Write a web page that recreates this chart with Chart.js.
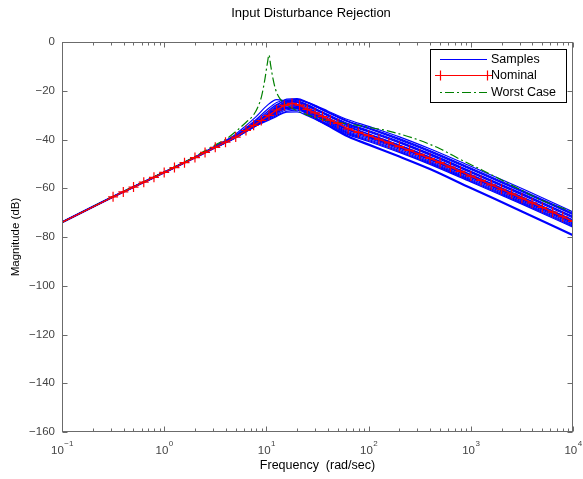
<!DOCTYPE html>
<html><head><meta charset="utf-8">
<script src="https://cdn.jsdelivr.net/npm/chart.js@4.4.0/dist/chart.umd.min.js"></script>
<style>html,body{margin:0;padding:0;background:#fff;}canvas{display:block;}</style>
</head><body>
<canvas id="c" width="583" height="479"></canvas>
<script>
// ---------- data ----------
const chartTitle = 'Input Disturbance Rejection';
const xTitle = 'Frequency  (rad/sec)';
const yTitle = 'Magnitude (dB)';
const yTicks = [-160, -140, -120, -100, -80, -60, -40, -20, 0];
const xTickExps = [-1, 0, 1, 2, 3, 4];
const legendLabels = ['Samples', 'Nominal', 'Worst Case'];

const freqNominal = [0.1, 0.316, 0.398, 0.501, 0.631, 0.794, 1, 1.26, 1.58, 2, 2.51, 3.16, 3.98, 5.01, 6.31, 7.5, 8.91, 10.6, 12.6, 15.0, 17.8, 21.1, 25.1, 29.9, 35.5, 42.2, 50.1, 63.1, 79.4, 100, 126, 158, 200, 251, 316, 398, 501, 631, 794, 1000, 1259, 1585, 1995, 2512, 3162, 3981, 5012, 6310, 7943, 10000];
const magNominal = [-74, -63.5, -61.5, -59.5, -57.5, -55.5, -53.5, -51.5, -49.5, -47.4, -45.3, -43.2, -41.1, -39.0, -36.3, -34.2, -32.2, -30.1, -27.9, -26.0, -25.2, -25.9, -27.6, -29.1, -30.6, -32.1, -33.4, -35.6, -37.1, -38.4, -39.9, -41.4, -42.9, -44.5, -46.1, -47.8, -49.5, -51.3, -53.1, -55.0, -56.8, -58.6, -60.4, -62.3, -64.1, -66.0, -67.9, -69.8, -71.7, -73.6];

const freqWorst = [0.1, 0.316, 1, 2, 3.16, 4, 5, 6.3, 7.4, 8.3, 9.0, 9.6, 10.2, 10.6, 11.0, 11.6, 12.3, 13.5, 15.8, 20, 26.6, 35, 50, 70, 100, 150, 200, 300, 500, 800, 1300, 2000, 3000, 5000, 10000];
const magWorst = [-74, -63.4, -53.3, -47.0, -42.2, -39.9, -36.8, -33.0, -30.2, -26.5, -22.0, -16.0, -9.0, -5.3, -9.5, -15.0, -19.5, -23.1, -25.8, -28.2, -30.3, -31.8, -33.0, -33.9, -35.0, -36.3, -37.7, -40.0, -43.8, -48.3, -52.6, -56.6, -60.4, -65.0, -69.7];

const freqSamples = [0.1, 0.316, 1, 2, 3.16, 5.01, 6.31, 7.94, 10, 12.6, 15.8, 20, 25.1, 31.6, 39.8, 63.1, 100, 200, 398, 1000, 3162, 10000];
const sample01 = [-74, -63.5, -53.4, -47.2, -42.7, -37.8, -34.3, -30.6, -26.3, -23.6, -24.3, -26.2, -28.4, -30.4, -32.3, -36.0, -38.9, -43.3, -48.2, -55.4, -64.5, -74.0];
const sample02 = [-74, -63.5, -53.4, -47.3, -42.9, -38.3, -35.2, -31.8, -28.0, -24.8, -23.8, -24.8, -26.9, -29.0, -31.0, -34.9, -37.9, -42.4, -47.3, -54.5, -63.6, -73.1];
const sample03 = [-74, -63.5, -53.5, -47.4, -43.1, -38.8, -35.9, -32.8, -29.6, -26.1, -23.4, -23.2, -24.6, -26.4, -28.3, -31.9, -34.6, -38.9, -43.8, -51.0, -60.1, -69.7];
const sample04 = [-74, -63.5, -53.5, -47.4, -43.1, -38.9, -36.1, -33.1, -30.1, -26.8, -24.1, -23.5, -24.9, -26.9, -28.9, -32.5, -35.2, -39.6, -44.5, -51.7, -60.8, -70.3];
const sample05 = [-74, -63.5, -53.5, -47.4, -43.2, -39.0, -36.3, -33.4, -30.6, -27.6, -25.0, -23.9, -24.7, -26.6, -28.7, -32.7, -35.6, -40.2, -45.1, -52.3, -61.4, -70.9];
const sample06 = [-74, -63.5, -53.5, -47.4, -43.1, -38.8, -36.0, -32.9, -29.9, -26.8, -24.4, -24.2, -25.7, -27.7, -29.7, -33.5, -36.3, -40.8, -45.8, -53.0, -62.1, -71.6];
const sample07 = [-74, -63.5, -53.5, -47.4, -43.2, -38.9, -36.2, -33.2, -30.3, -27.3, -25.0, -24.6, -26.1, -28.2, -30.2, -34.1, -36.9, -41.4, -46.4, -53.6, -62.7, -72.2];
const sample08 = [-74, -63.5, -53.5, -47.4, -43.2, -39.0, -36.3, -33.5, -30.9, -28.2, -25.9, -24.8, -25.8, -27.9, -30.1, -34.5, -37.7, -42.3, -47.2, -54.4, -63.5, -73.0];
const sample09 = [-74, -63.5, -53.5, -47.4, -43.2, -39.0, -36.3, -33.5, -30.9, -28.2, -26.2, -26.1, -27.8, -29.8, -31.8, -35.6, -38.4, -42.9, -47.8, -55.0, -64.1, -73.6];
const sample10 = [-74, -63.5, -53.5, -47.4, -43.2, -39.1, -36.4, -33.7, -31.2, -28.6, -26.7, -26.5, -28.2, -30.3, -32.3, -36.2, -39.0, -43.5, -48.4, -55.6, -64.7, -74.2];
const sample11 = [-74, -63.5, -53.5, -47.4, -43.2, -39.1, -36.5, -33.9, -31.5, -29.0, -27.2, -26.9, -28.5, -30.6, -32.7, -36.7, -39.5, -44.0, -48.9, -56.1, -65.2, -74.7];
const sample12 = [-74, -63.5, -53.5, -47.4, -43.3, -39.2, -36.6, -34.1, -31.9, -29.6, -27.8, -27.4, -28.8, -30.9, -33.1, -37.2, -40.0, -44.5, -49.4, -56.6, -65.7, -75.2];
const sample13 = [-74, -63.5, -53.5, -47.4, -43.3, -39.2, -36.7, -34.3, -32.2, -30.1, -28.4, -28.0, -29.4, -31.5, -33.6, -37.6, -40.4, -44.9, -49.8, -57.0, -66.1, -75.6];
const sample14 = [-74, -63.5, -53.5, -47.4, -43.3, -39.3, -36.8, -34.4, -32.5, -30.5, -28.8, -28.7, -30.2, -32.2, -34.2, -38.0, -40.8, -45.3, -50.2, -57.4, -66.5, -76.0];
const sample15 = [-74, -63.5, -53.5, -47.3, -43.0, -38.5, -35.6, -32.3, -28.9, -25.7, -24.2, -24.6, -26.3, -28.2, -30.1, -33.8, -36.6, -41.1, -46.0, -53.2, -62.3, -71.8];
const sample16 = [-74, -63.5, -53.5, -47.4, -43.2, -39.1, -36.5, -33.7, -31.3, -28.8, -27.0, -27.1, -29.3, -31.8, -34.2, -38.8, -42.1, -47.0, -52.1, -59.9, -69.5, -79.3];
const sample17 = [-74, -63.5, -53.5, -47.4, -43.2, -39.0, -36.2, -33.3, -30.4, -27.3, -24.6, -23.7, -24.8, -26.8, -28.8, -32.6, -35.4, -39.9, -44.8, -52.0, -61.1, -70.6];
const sample18 = [-74, -63.5, -53.5, -47.4, -43.1, -38.9, -36.1, -33.1, -30.3, -27.4, -25.4, -25.6, -27.4, -29.5, -31.6, -35.7, -38.7, -43.2, -48.1, -55.3, -64.4, -73.9];
const samples = [sample01, sample02, sample03, sample04, sample05, sample06, sample07, sample08, sample09, sample10, sample11, sample12, sample13, sample14, sample15, sample16, sample17, sample18];

// ---------- styles ----------
const FONT = '"Liberation Sans", Arial, Helvetica, sans-serif';
const BLUE = '#0000ff', RED = '#ff0000', GREEN = '#008000';
const DASHDOT = [9, 3, 2, 3];

const pts = (xs, ys) => xs.map((x, i) => ({x: x, y: ys[i]}));

const datasets = [];
datasets.push({
  label: 'Nominal', data: pts(freqNominal, magNominal),
  borderColor: RED, backgroundColor: RED, borderWidth: 1.4, tension: 0,
  pointStyle: 'cross', pointRadius: freqNominal.map((f, i) => i === 0 ? 0 : 5),
  pointBorderColor: RED, pointBorderWidth: 1.2
});
datasets.push({
  label: 'Worst Case', data: pts(freqWorst, magWorst),
  borderColor: GREEN, borderWidth: 1.2, borderDash: DASHDOT, pointRadius: 0,
  cubicInterpolationMode: 'monotone'
});
samples.forEach((s, i) => datasets.push({
  label: 'Samples', data: pts(freqSamples, s),
  borderColor: BLUE, borderWidth: s === sample16 ? 2.2 : 1.2, pointRadius: 0,
  cubicInterpolationMode: 'monotone'
}));

const decor = {
  id: 'decor',
  afterDraw(chart) {
    const ctx = chart.ctx, a = chart.chartArea;
    const xs = chart.scales.x, ys = chart.scales.y;
    const L = Math.round(a.left) + 0.5, R = Math.round(a.right) - 0.5;
    const T = Math.round(a.top) + 0.5, B = Math.round(a.bottom) - 0.5;
    ctx.save();
    ctx.strokeStyle = '#6b6b6b'; ctx.lineWidth = 1;
    ctx.strokeRect(L, T, R - L, B - T);
    ctx.beginPath();
    yTicks.forEach(v => {
      const y = Math.round(ys.getPixelForValue(v)) + 0.5;
      ctx.moveTo(L, y); ctx.lineTo(L + 5, y);
      ctx.moveTo(R, y); ctx.lineTo(R - 5, y);
    });
    xTickExps.forEach(e => {
      const x = Math.round(xs.getPixelForValue(Math.pow(10, e))) + 0.5;
      ctx.moveTo(x, B); ctx.lineTo(x, B - 5);
      ctx.moveTo(x, T); ctx.lineTo(x, T + 5);
      if (e < 4) {
        for (let k = 2; k <= 9; k++) {
          const xm = Math.round(xs.getPixelForValue(k * Math.pow(10, e))) + 0.5;
          ctx.moveTo(xm, B); ctx.lineTo(xm, B - 3);
          ctx.moveTo(xm, T); ctx.lineTo(xm, T + 3);
        }
      }
    });
    ctx.stroke();

    // x tick labels 10^e
    ctx.fillStyle = '#444'; ctx.textBaseline = 'alphabetic'; ctx.textAlign = 'left';
    xTickExps.forEach(e => {
      const x = xs.getPixelForValue(Math.pow(10, e));
      const expTxt = e < 0 ? '\u2212' + (-e) : String(e);
      ctx.font = '11.5px ' + FONT; const w1 = ctx.measureText('10').width;
      ctx.font = '8px ' + FONT; const w2 = ctx.measureText(expTxt).width;
      const x0 = x - (w1 + w2) / 2;
      ctx.font = '11.5px ' + FONT; ctx.fillText('10', x0, 454);
      ctx.font = '8px ' + FONT; ctx.fillText(expTxt, x0 + w1 + 0.5, 446);
    });

    // title
    ctx.fillStyle = '#000'; ctx.textAlign = 'center'; ctx.textBaseline = 'middle';
    ctx.font = '13px ' + FONT;
    ctx.fillText(chartTitle, 311, 13.5);

    // legend
    const lx = 430, ly = 49, lw = 136, lh = 53;
    ctx.fillStyle = '#fff'; ctx.fillRect(lx, ly, lw, lh);
    ctx.strokeStyle = '#000'; ctx.lineWidth = 1;
    ctx.strokeRect(lx + 0.5, ly + 0.5, lw, lh);
    const rows = [59.5, 75.5, 92.5];
    const x1 = 440, x2 = 487;
    ctx.lineWidth = 1.2;
    ctx.strokeStyle = BLUE; ctx.beginPath(); ctx.moveTo(x1, rows[0]); ctx.lineTo(x2, rows[0]); ctx.stroke();
    ctx.strokeStyle = RED; ctx.beginPath(); ctx.moveTo(x1, rows[1]); ctx.lineTo(x2, rows[1]);
    [x1, x2].forEach(px => { ctx.moveTo(px - 5, rows[1]); ctx.lineTo(px + 5, rows[1]); ctx.moveTo(px + 0.5, rows[1] - 5); ctx.lineTo(px + 0.5, rows[1] + 5); });
    ctx.stroke();
    ctx.strokeStyle = GREEN; ctx.setLineDash([2, 3, 9, 3]); ctx.beginPath(); ctx.moveTo(x1, rows[2]); ctx.lineTo(x2, rows[2]); ctx.stroke();
    ctx.setLineDash([]);
    ctx.fillStyle = '#000'; ctx.textAlign = 'left'; ctx.textBaseline = 'middle';
    ctx.font = '12.5px ' + FONT;
    legendLabels.forEach((t, i) => ctx.fillText(t, 491, rows[i]));
    ctx.restore();
  }
};

Chart.defaults.font.family = FONT;
new Chart(document.getElementById('c'), {
  type: 'line',
  data: {datasets: datasets},
  options: {
    responsive: false, animation: false, devicePixelRatio: 1,
    layout: {padding: {left: 0, right: 10, top: 42, bottom: 0}},
    plugins: {legend: {display: false}, tooltip: {enabled: false}, title: {display: false}},
    elements: {line: {fill: false}},
    scales: {
      x: {
        type: 'logarithmic', min: 0.1, max: 10000,
        ticks: {display: false},
        grid: {display: false, drawTicks: false}, border: {display: false},
        title: {display: true, text: xTitle, color: '#000', font: {size: 12.5}, padding: {top: 0, bottom: 6}},
        afterFit: s => { s.height = 47; }
      },
      y: {
        type: 'linear', min: -160, max: 0,
        afterBuildTicks: s => { s.ticks = yTicks.map(v => ({value: v})); },
        ticks: {autoSkip: false, padding: 7, color: '#444', font: {size: 11.5},
          callback: v => v < 0 ? '\u2212' + Math.abs(v) : String(v)},
        grid: {display: false, drawTicks: false}, border: {display: false},
        title: {display: true, text: yTitle, color: '#000', font: {size: 11.5}, padding: {top: 9, bottom: 0}},
        afterFit: s => { s.width = 62; }
      }
    }
  },
  plugins: [decor]
});
</script>
</body></html>
